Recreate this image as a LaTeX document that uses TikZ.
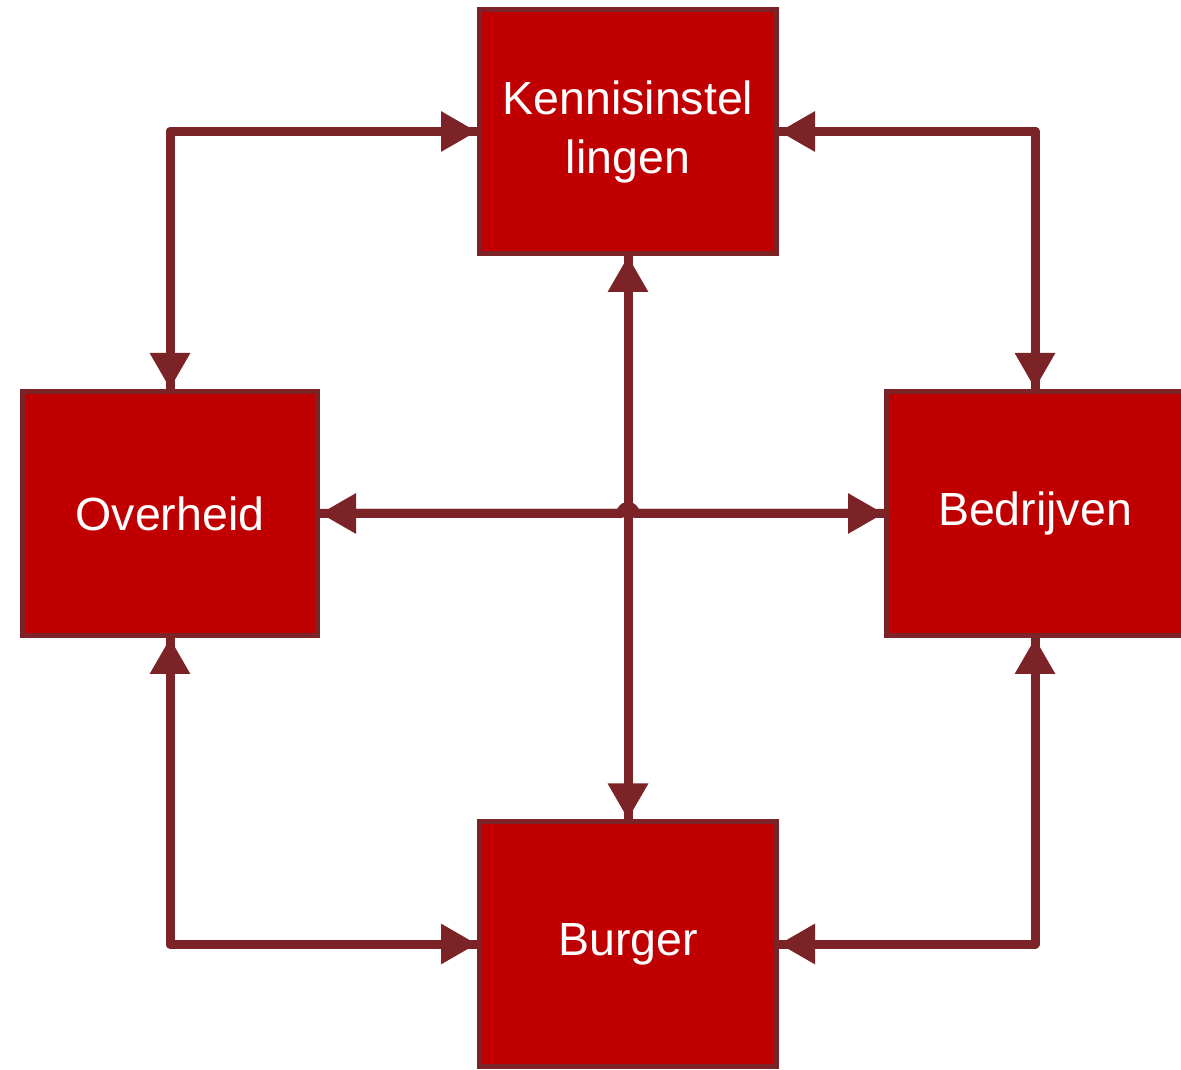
\documentclass[tikz,border=0pt]{standalone}
\usepackage{fontspec}
\setmainfont{Liberation Sans}
\usetikzlibrary{arrows.meta}
\definecolor{boxred}{HTML}{C00000}
\definecolor{linered}{HTML}{7B2327}
\begin{document}
\begin{tikzpicture}[x=1pt,y=1pt,
  box/.style={draw=linered, line width=5pt, fill=boxred, minimum width=297pt,
    minimum height=244pt, inner sep=0pt, text=white, align=center,
    font=\fontsize{46.5}{59}\selectfont},
  link/.style={draw=linered, line width=9pt, line cap=round, line join=round,
    preaction={draw=linered, line width=9pt, line cap=round, line join=round, -},
    {Triangle[length=36pt,width=38pt]}-{Triangle[length=36pt,width=38pt]}}]
\useasboundingbox (0,0) rectangle (1181,1069);
\node[box] (K) at (628,937.5) {Kennisinstel\\lingen};
\node[box, minimum width=295pt] (O) at (170,555.5) {Overheid};
\node[box] (B) at (1035,555.5) {Bedrijven};
\node[box] (U) at (628,125) {Burger};
\coordinate (hopL) at (621,555.5);
\draw[link] (O) -- (hopL) arc[start angle=180, end angle=0, radius=7] -- (B);
\draw[link] (K) -- (U);
\draw[link] (O.north) |- (K.west);
\draw[link] (K.east) -| (B.north);
\draw[link] (O.south) |- (U.west);
\draw[link] (B.south) |- (U.east);
\end{tikzpicture}
\end{document}
